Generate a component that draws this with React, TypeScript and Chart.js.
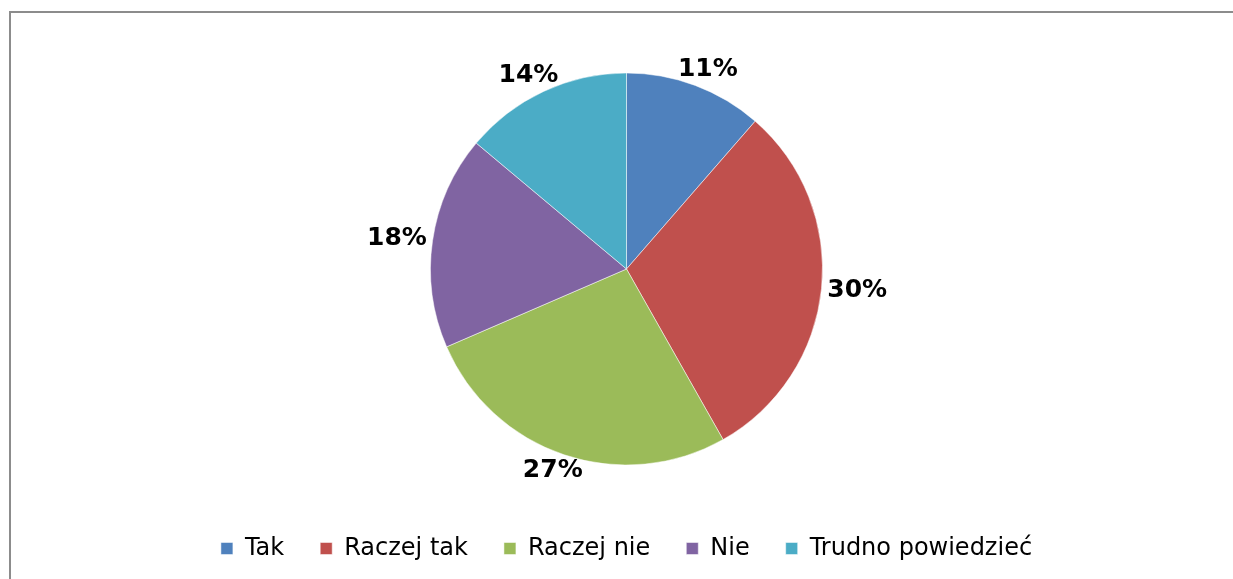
import React, { useEffect, useRef } from "react";
import { Chart, registerables } from "chart.js";

Chart.register(...registerables);

const categories: string[] = ["Tak", "Raczej tak", "Raczej nie", "Nie", "Trudno powiedzieć"];
const shares: number[] = [11.4, 30.4, 26.7, 17.6, 13.9];
const sliceColors: string[] = ["#4F81BD", "#C0504D", "#9BBB59", "#8064A2", "#4BACC6"];

const labelPlugin = {
  id: "outsideLabels",
  afterDatasetsDraw(chart: any) {
    const { ctx } = chart;
    const meta = chart.getDatasetMeta(0);
    const data = chart.data.datasets[0].data as number[];
    ctx.save();
    ctx.font = "bold 25px 'DejaVu Sans', Verdana, sans-serif";
    ctx.fillStyle = "#000";
    ctx.textAlign = "center";
    ctx.textBaseline = "middle";
    meta.data.forEach((arc: any, i: number) => {
      const { x, y, startAngle, endAngle, outerRadius } = arc.getProps(
        ["x", "y", "startAngle", "endAngle", "outerRadius"],
        true
      );
      const mid = (startAngle + endAngle) / 2;
      const dx = Math.cos(mid);
      const dy = Math.sin(mid);
      const text = Math.round(data[i]) + "%";
      const w = ctx.measureText(text).width;
      const h = 22;
      const r = outerRadius + 6;
      const cx = x + dx * r + dx * (w / 2);
      const cy = y + dy * r + dy * (h / 2);
      ctx.fillText(text, cx, cy);
    });
    ctx.restore();
  },
};

export default function App() {
  const ref = useRef<HTMLCanvasElement | null>(null);
  useEffect(() => {
    if (!ref.current) return;
    const chart = new Chart(ref.current, {
      type: "pie",
      data: {
        labels: categories,
        datasets: [
          {
            data: shares,
            backgroundColor: sliceColors,
            borderColor: "rgba(255,255,255,0.5)",
            borderWidth: 1,
            radius: 196,
          },
        ],
      },
      options: {
        responsive: false,
        animation: false,
        layout: { padding: { top: 37.5, bottom: 8.5, left: 20, right: 0 } },
        plugins: {
          tooltip: { enabled: false },
          legend: {
            position: "bottom",
            labels: {
              boxWidth: 12,
              boxHeight: 12,
              padding: 36,
              color: "#000",
              font: { family: "'DejaVu Sans', Verdana, sans-serif", size: 24 },
            },
          },
        },
      },
      plugins: [labelPlugin],
    });
    return () => chart.destroy();
  }, []);
  return (
    <div style={{ position: "fixed", left: 0, top: 0, width: 1233, height: 579, background: "#fff", overflow: "hidden" }}>
      <div
        style={{
          position: "absolute",
          left: 9,
          top: 11,
          width: 1300,
          height: 700,
          borderLeft: "2px solid #8c8c8c",
          borderTop: "2px solid #8c8c8c",
        }}
      />
      <canvas ref={ref} width={1233} height={579} style={{ position: "absolute", left: 0, top: 0, display: "block" }} />
    </div>
  );
}
